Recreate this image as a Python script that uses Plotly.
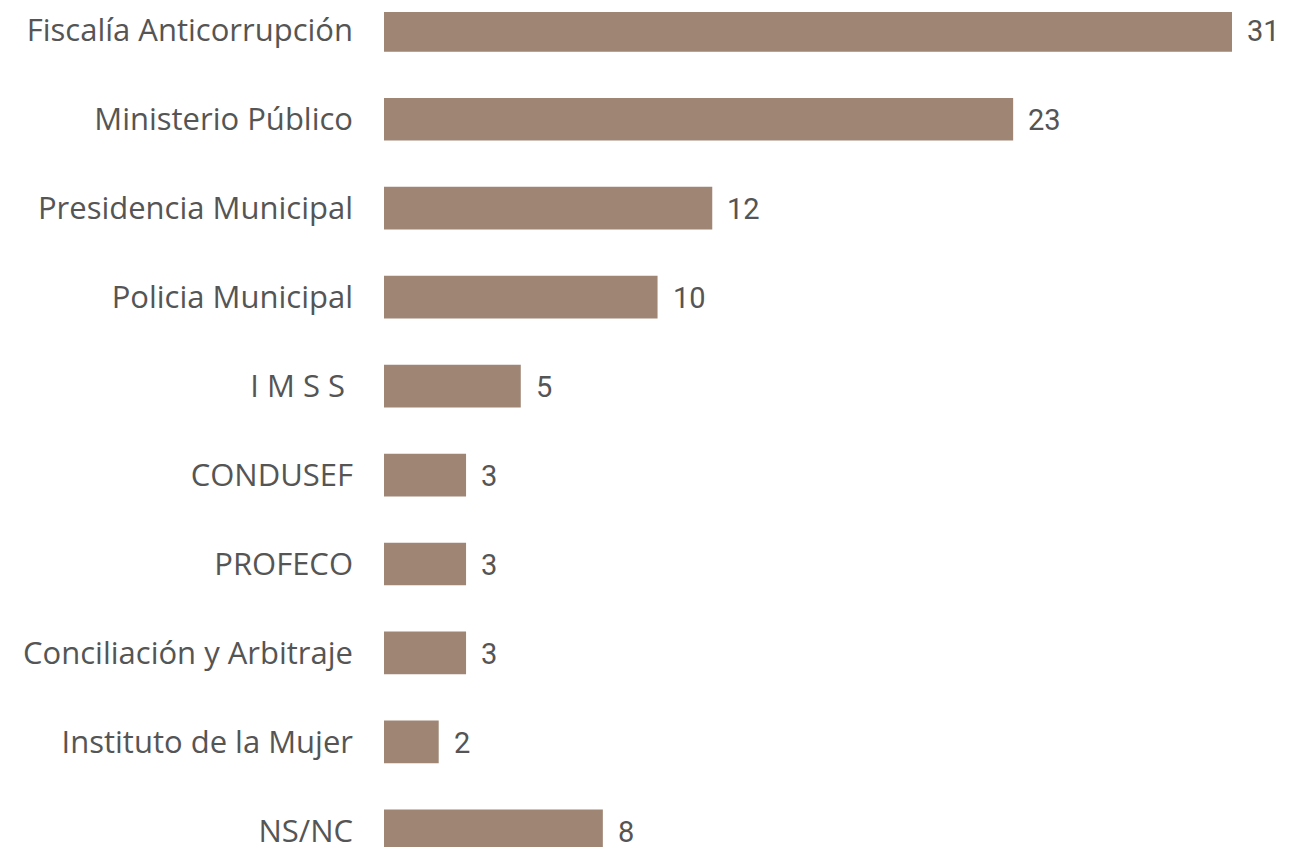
import plotly.graph_objects as go

categories = ["Fiscalía Anticorrupción", "Ministerio Público", "Presidencia Municipal",
              "Policia Municipal", "I M S S\u00a0", "CONDUSEF", "PROFECO",
              "Conciliación y Arbitraje", "Instituto de la Mujer", "NS/NC"]
values = [31, 23, 12, 10, 5, 3, 3, 3, 2, 8]

bar_color = "#9E8574"
text_color = "#555555"

fig = go.Figure(go.Bar(
    x=values, y=categories, orientation="h",
    marker=dict(color=bar_color, line=dict(width=0)),
    width=0.48, hoverinfo="x+y",
))

annotations = [
    dict(x=v, y=c, text=str(v), xref="x", yref="y", xanchor="left", yanchor="middle",
         xshift=13, yshift=-1, showarrow=False,
         font=dict(family="Roboto", size=29, color=text_color))
    for c, v in zip(categories, values)
]

fig.update_layout(
    width=1283, height=843,
    margin=dict(l=376, r=20, t=0, b=0),
    paper_bgcolor="white", plot_bgcolor="white",
    showlegend=False,
    annotations=annotations,
    xaxis=dict(range=[0, 31 * 887 / 848], visible=False, showgrid=False, zeroline=False),
    yaxis=dict(type="category", categoryorder="array", categoryarray=categories,
               range=[9.182, -0.206], showgrid=False, zeroline=False, showline=False,
               ticks="", ticklabelstandoff=30,
               tickfont=dict(family="Open Sans", size=31, color=text_color)),
)

fig.write_html("out.html")
